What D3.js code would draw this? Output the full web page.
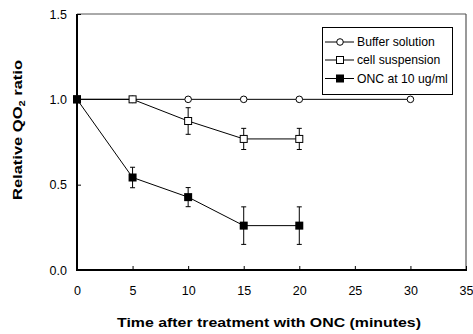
<!DOCTYPE html>
<html>
<head>
<meta charset="utf-8">
<script src="https://cdn.jsdelivr.net/npm/d3@7"></script>
<style>
  html, body { margin: 0; padding: 0; background: #fff; }
  svg { display: block; font-family: "Liberation Sans", Arial, sans-serif; }
</style>
</head>
<body>
<svg id="chart" width="473" height="334"></svg>
<script>
// Relative QO2 ratio over time after treatment
const seriesNames = ["Buffer solution", "cell suspension", "ONC at 10 ug/ml"];
const bufferTime = [0, 5, 10, 15, 20, 30];
const bufferValue = [1.0, 1.0, 1.0, 1.0, 1.0, 1.0];
const cellTime = [0, 5, 10, 15, 20];
const cellValue = [1.0, 1.0, 0.873, 0.768, 0.768];
const cellError = [0, 0, 0.078, 0.062, 0.062];
const oncTime = [0, 5, 10, 15, 20];
const oncValue = [1.0, 0.542, 0.427, 0.26, 0.26];
const oncError = [0, 0.06, 0.056, 0.11, 0.11];
const xTicks = [0, 5, 10, 15, 20, 25, 30, 35];
const yTicks = [0.0, 0.5, 1.0, 1.5];

const svg = d3.select("#chart");
const plotLeft = 77, plotRight = 466, plotTop = 14, plotBottom = 270;

const x = d3.scaleLinear().domain([0, 35]).range([plotLeft, plotRight]);
const y = d3.scaleLinear().domain([0, 1.5]).range([plotBottom, plotTop]);

// plot frame: thin top/right, heavy left/bottom axes
svg.append("line").attr("x1", plotLeft).attr("x2", plotRight).attr("y1", plotTop).attr("y2", plotTop)
  .attr("stroke", "#555").attr("stroke-width", 1);
svg.append("line").attr("x1", plotRight).attr("x2", plotRight).attr("y1", plotTop).attr("y2", plotBottom)
  .attr("stroke", "#555").attr("stroke-width", 1.2);

const xAxis = d3.axisBottom(x).tickValues(xTicks).tickSize(-4).tickPadding(16)
  .tickFormat(d3.format("d"));
const gx = svg.append("g").attr("transform", `translate(0,${plotBottom})`).call(xAxis);
gx.select(".domain").attr("stroke", "#000").attr("stroke-width", 2).attr("d", `M${plotLeft - 1},0H${plotRight + 1}`);
gx.selectAll(".tick line").attr("stroke", "#000");
gx.selectAll(".tick text").attr("font-size", "12.5px").attr("fill", "#000")
  .attr("font-family", "Liberation Sans, Arial, sans-serif");

const yAxis = d3.axisLeft(y).tickValues(yTicks).tickSize(-4).tickPadding(10)
  .tickFormat(d3.format(".1f"));
const gy = svg.append("g").attr("transform", `translate(${plotLeft},0)`).call(yAxis);
gy.select(".domain").attr("stroke", "#000").attr("stroke-width", 2).attr("d", `M0,${plotTop}V${plotBottom + 1}`);
gy.selectAll(".tick line").attr("stroke", "#000");
gy.selectAll(".tick text").attr("font-size", "12.5px").attr("fill", "#000")
  .attr("font-family", "Liberation Sans, Arial, sans-serif");

// axis titles
svg.append("text").attr("x", 269).attr("y", 327).attr("text-anchor", "middle")
  .attr("font-size", "13.5px").attr("font-weight", "bold")
  .attr("textLength", 304).attr("lengthAdjust", "spacingAndGlyphs")
  .text("Time after treatment with ONC (minutes)");

const yt = svg.append("text").attr("transform", "translate(22,130) rotate(-90)")
  .attr("text-anchor", "middle").attr("font-size", "13.5px").attr("font-weight", "bold")
  .attr("textLength", 140).attr("lengthAdjust", "spacingAndGlyphs");
yt.append("tspan").text("Relative QO");
yt.append("tspan").attr("font-size", "9px").attr("dy", 3).text("2");
yt.append("tspan").attr("dy", -3).text(" ratio");

const line = d3.line().x(d => x(d.t)).y(d => y(d.v));
const zip = (ts, vs, es) => ts.map((t, i) => ({ t, v: vs[i], e: es ? es[i] : 0 }));

const buffer = zip(bufferTime, bufferValue);
const cell = zip(cellTime, cellValue, cellError);
const onc = zip(oncTime, oncValue, oncError);

function drawErrors(data) {
  const g = svg.append("g").attr("stroke", "#000").attr("stroke-width", 1);
  data.filter(d => d.e > 0).forEach(d => {
    const cx = x(d.t), y1 = y(d.v + d.e), y2 = y(d.v - d.e);
    g.append("line").attr("x1", cx).attr("x2", cx).attr("y1", y1).attr("y2", y2);
    g.append("line").attr("x1", cx - 2.5).attr("x2", cx + 2.5).attr("y1", y1).attr("y2", y1);
    g.append("line").attr("x1", cx - 2.5).attr("x2", cx + 2.5).attr("y1", y2).attr("y2", y2);
  });
}

[buffer, cell, onc].forEach(data => {
  svg.append("path").datum(data).attr("d", line)
    .attr("fill", "none").attr("stroke", "#000").attr("stroke-width", 1);
});
drawErrors(cell);
drawErrors(onc);

svg.append("g").selectAll("circle").data(buffer).join("circle")
  .attr("cx", d => x(d.t)).attr("cy", d => y(d.v)).attr("r", 3.3)
  .attr("fill", "#fff").attr("stroke", "#000").attr("stroke-width", 1);
svg.append("g").selectAll("rect").data(cell).join("rect")
  .attr("x", d => x(d.t) - 3.5).attr("y", d => y(d.v) - 3.5).attr("width", 7).attr("height", 7)
  .attr("fill", "#fff").attr("stroke", "#000").attr("stroke-width", 1);
svg.append("g").selectAll("rect").data(onc).join("rect")
  .attr("x", d => x(d.t) - 4).attr("y", d => y(d.v) - 4).attr("width", 8).attr("height", 8)
  .attr("fill", "#000");

// legend
const lg = svg.append("g");
lg.append("rect").attr("x", 322.5).attr("y", 27.5).attr("width", 130).attr("height", 67)
  .attr("fill", "#fff").attr("stroke", "#000").attr("stroke-width", 1);
const rowY = [42, 60, 78.5];
seriesNames.forEach((name, i) => {
  const cy = rowY[i];
  lg.append("line").attr("x1", 325).attr("x2", 354).attr("y1", cy).attr("y2", cy)
    .attr("stroke", "#000").attr("stroke-width", 1);
  if (i === 0) {
    lg.append("circle").attr("cx", 340).attr("cy", cy).attr("r", 3.3)
      .attr("fill", "#fff").attr("stroke", "#000");
  } else if (i === 1) {
    lg.append("rect").attr("x", 336.5).attr("y", cy - 3.5).attr("width", 7).attr("height", 7)
      .attr("fill", "#fff").attr("stroke", "#000");
  } else {
    lg.append("rect").attr("x", 336).attr("y", cy - 4).attr("width", 8).attr("height", 8)
      .attr("fill", "#000");
  }
  lg.append("text").attr("x", 357).attr("y", cy + 4).attr("font-size", "12.2px").text(name);
});
</script>
</body>
</html>
